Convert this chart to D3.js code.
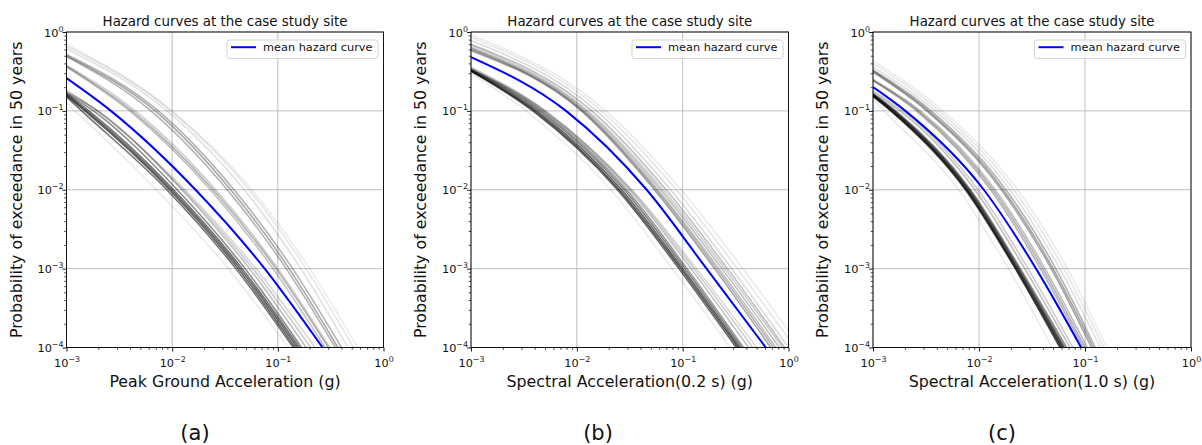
<!DOCTYPE html>
<html><head><meta charset="utf-8">
<script src="https://cdn.jsdelivr.net/npm/d3@7"></script>
<style>
body{margin:0;background:#fff;}
text{font-family:"DejaVu Sans","Liberation Sans",sans-serif;fill:#111;}
</style>
</head><body>
<svg id="chart" width="1202" height="445"></svg>
<script>
// ---------------- DATA ----------------
// Each logic-tree hazard curve read from the picture as:
// [P at 0.001 g, accel. where P = 1e-1, accel. where P = 1e-2, accel. where P = 1e-3, accel. where P = 1e-4, branch weight]
const pgaCurves = [
  [0.150,0.00139,0.00889,0.040,0.140,0.55],[0.155,0.00149,0.00942,0.042,0.146,0.60],
  [0.160,0.00155,0.00984,0.044,0.153,0.60],[0.165,0.00163,0.01033,0.046,0.160,0.55],
  [0.168,0.00180,0.01117,0.049,0.168,0.45],
  [0.172,0.00199,0.0123,0.054,0.185,0.25],[0.178,0.00195,0.0127,0.058,0.205,0.20],
  [0.185,0.00195,0.0132,0.062,0.225,0.15],
  [0.125,0.00120,0.0071,0.034,0.125,0.08],
  [0.36,0.00396,0.0230,0.090,0.28,0.25],[0.37,0.00418,0.0244,0.096,0.30,0.30],[0.38,0.00447,0.0258,0.100,0.31,0.20],
  [0.49,0.0063,0.0332,0.120,0.35,0.30],[0.50,0.0069,0.0358,0.128,0.37,0.35],[0.52,0.0074,0.0385,0.138,0.40,0.30],
  [0.61,0.00895,0.0481,0.165,0.46,0.12],[0.66,0.00973,0.0535,0.185,0.52,0.10],[0.70,0.0100,0.0569,0.200,0.57,0.08]
];
const pgaMean = [0.26,0.00263,0.01663,0.075,0.265];

const sa02Curves = [
  [0.318,0.00384,0.0242,0.092,0.320,0.60],[0.322,0.0040,0.0252,0.096,0.334,0.65],
  [0.327,0.0042,0.0265,0.100,0.346,0.60],[0.332,0.00446,0.0281,0.105,0.360,0.50],
  [0.337,0.00469,0.0296,0.110,0.375,0.40],
  [0.34,0.0049,0.0314,0.120,0.42,0.25],[0.35,0.0050,0.0325,0.128,0.46,0.20],[0.36,0.0051,0.0332,0.135,0.50,0.15],
  [0.30,0.0033,0.0209,0.080,0.28,0.08],
  [0.58,0.0110,0.0540,0.200,0.68,0.35],[0.60,0.01135,0.0562,0.210,0.72,0.30],[0.62,0.0116,0.0582,0.220,0.76,0.25],
  [0.64,0.01213,0.0617,0.235,0.82,0.25],[0.68,0.0127,0.0652,0.250,0.88,0.20],[0.70,0.01384,0.0698,0.265,0.92,0.25],
  [0.78,0.01535,0.0769,0.290,1.00,0.15],[0.86,0.01714,0.0869,0.330,1.15,0.10],[0.92,0.0188,0.0964,0.370,1.30,0.08]
];
const sa02Mean = [0.48,0.0079,0.0457,0.168,0.61];

const sa10Curves = [
  [0.152,0.00147,0.00745,0.0220,0.058,0.70],[0.156,0.00150,0.00762,0.0225,0.060,0.75],
  [0.159,0.00155,0.00783,0.0231,0.062,0.70],[0.162,0.00159,0.00807,0.0238,0.064,0.60],
  [0.165,0.00164,0.00830,0.0245,0.067,0.45],
  [0.17,0.00180,0.00915,0.027,0.072,0.25],[0.18,0.00192,0.0098,0.029,0.077,0.20],
  [0.14,0.00127,0.00644,0.019,0.049,0.08],
  [0.24,0.00257,0.0129,0.038,0.096,0.30],[0.245,0.00267,0.01355,0.040,0.100,0.30],[0.25,0.00279,0.0142,0.042,0.105,0.25],
  [0.31,0.00321,0.01626,0.048,0.115,0.35],[0.32,0.00334,0.01694,0.050,0.120,0.35],[0.33,0.00354,0.01795,0.053,0.125,0.30],
  [0.36,0.00387,0.01963,0.058,0.140,0.12],[0.40,0.00421,0.02133,0.063,0.150,0.10],[0.43,0.00455,0.02307,0.068,0.160,0.08]
];
const sa10Mean = [0.20,0.00202,0.0111,0.0345,0.092];

const xTicks = [1e-3,1e-2,1e-1,1];
const yTicks = [1e-4,1e-3,1e-2,1e-1,1];
const titleText = "Hazard curves at the case study site";
const yLabelText = "Probability of exceedance in 50 years";
const xLabelTexts = ["Peak Ground Acceleration (g)","Spectral Acceleration(0.2 s) (g)","Spectral Acceleration(1.0 s) (g)"];
const panelTags = ["(a)","(b)","(c)"];
const legendText = "mean hazard curve";

// ---------------- DRAW ----------------
const svg = d3.select("#chart");
const plotTop = 32, plotBottom = 347.5;
const layout = [
  {left:66.5, right:383.5, tagX:195},
  {left:471,  right:788.5, tagX:598},
  {left:873,  right:1191,  tagX:1002}
];
const curveSets = [pgaCurves, sa02Curves, sa10Curves];
const means = [pgaMean, sa02Mean, sa10Mean];
const opacity = d3.scaleLinear().domain([0,1]).range([0,1]);

function anchors(c){
  return [[0.001,c[0]],[c[1],1e-1],[c[2],1e-2],[c[3],1e-3],[c[4],1e-4]];
}
function minorOf(dom){
  const out=[];
  const a=Math.round(Math.log10(dom[0])), b=Math.round(Math.log10(dom[1]));
  for(let e=a;e<b;e++) for(let k=2;k<=9;k++) out.push(k*Math.pow(10,e));
  return out;
}
const expo = v => { const e=Math.round(Math.log10(v)); return e<0 ? "\u2212"+(-e) : String(e); };

layout.forEach((L,i)=>{
  const x = d3.scaleLog().domain([1e-3,1]).range([L.left,L.right]);
  const y = d3.scaleLog().domain([1e-4,1]).range([plotBottom,plotTop]);
  const g = svg.append("g");
  const cid = "clip"+i;
  svg.append("clipPath").attr("id",cid).append("rect")
    .attr("x",L.left).attr("y",plotTop).attr("width",L.right-L.left).attr("height",plotBottom-plotTop);

  // grid
  g.append("g").selectAll("line").data(xTicks).join("line")
    .attr("x1",d=>x(d)).attr("x2",d=>x(d)).attr("y1",plotTop).attr("y2",plotBottom)
    .attr("stroke","#b8b8b8").attr("stroke-width",0.9);
  g.append("g").selectAll("line").data(yTicks).join("line")
    .attr("y1",d=>y(d)).attr("y2",d=>y(d)).attr("x1",L.left).attr("x2",L.right)
    .attr("stroke","#b8b8b8").attr("stroke-width",0.9);

  const line = d3.line().x(d=>x(d[0])).y(d=>y(d[1])).curve(d3.curveMonotoneX);
  const cg = g.append("g").attr("clip-path",`url(#${cid})`);
  cg.selectAll("path.branch").data(curveSets[i]).join("path").attr("class","branch")
    .attr("d",d=>line(anchors(d))).attr("fill","none")
    .attr("stroke","#000").attr("stroke-opacity",d=>opacity(d[5])).attr("stroke-width",1.6);
  cg.append("path").attr("d",line(anchors(means[i]))).attr("fill","none")
    .attr("stroke","#0000ff").attr("stroke-width",2);

  // axes
  const xa = g.append("g").attr("transform",`translate(0,${plotBottom})`)
    .call(d3.axisBottom(x).tickValues(xTicks).tickSize(4).tickSizeOuter(0).tickFormat(()=>""));
  xa.select(".domain").remove();
  xa.selectAll(".tick line").attr("stroke","#000").attr("stroke-width",0.9);
  xa.selectAll(".tick text").each(function(d){
    const t=d3.select(this).attr("y",19.5).attr("dy",null).attr("font-size",11.3).attr("fill","#111");
    t.text(null);
    t.append("tspan").text("10");
    t.append("tspan").attr("dy",-5).attr("font-size",7.9).text(expo(d));
  });
  const xm = g.append("g").attr("transform",`translate(0,${plotBottom})`)
    .call(d3.axisBottom(x).tickValues(minorOf([1e-3,1])).tickSize(2.3).tickSizeOuter(0).tickFormat(()=>""));
  xm.select(".domain").remove();
  xm.selectAll(".tick line").attr("stroke","#000").attr("stroke-width",0.7);

  const ya = g.append("g").attr("transform",`translate(${L.left},0)`)
    .call(d3.axisLeft(y).tickValues(yTicks).tickSize(4).tickSizeOuter(0).tickFormat(()=>""));
  ya.select(".domain").remove();
  ya.selectAll(".tick line").attr("stroke","#000").attr("stroke-width",0.9);
  ya.selectAll(".tick text").each(function(d){
    const t=d3.select(this).attr("x",-3).attr("dy",null).attr("y",4).attr("font-size",11.3).attr("fill","#111");
    t.text(null);
    t.append("tspan").text("10");
    t.append("tspan").attr("dy",-5).attr("font-size",7.9).text(expo(d));
  });
  const ym = g.append("g").attr("transform",`translate(${L.left},0)`)
    .call(d3.axisLeft(y).tickValues(minorOf([1e-4,1])).tickSize(2.3).tickSizeOuter(0).tickFormat(()=>""));
  ym.select(".domain").remove();
  ym.selectAll(".tick line").attr("stroke","#000").attr("stroke-width",0.7);

  // frame
  g.append("rect").attr("x",L.left).attr("y",plotTop).attr("width",L.right-L.left).attr("height",plotBottom-plotTop)
    .attr("fill","none").attr("stroke","#000").attr("stroke-width",0.9);

  // legend
  const lw=151, lh=18.5, lx=L.right-5.5-lw, ly=40;
  const lg = g.append("g");
  lg.append("rect").attr("x",lx).attr("y",ly).attr("width",lw).attr("height",lh).attr("rx",2.5)
    .attr("fill","#fff").attr("fill-opacity",0.8).attr("stroke","#d4d4d4").attr("stroke-width",1);
  lg.append("line").attr("x1",lx+4).attr("x2",lx+29).attr("y1",ly+7.2).attr("y2",ly+7.2)
    .attr("stroke","#0000ff").attr("stroke-width",2);
  lg.append("text").attr("x",lx+36).attr("y",ly+11.2).attr("font-size",11.3).text(legendText);

  // texts
  const cx=(L.left+L.right)/2;
  svg.append("text").attr("x",cx).attr("y",25.5).attr("text-anchor","middle").attr("font-size",13.4).text(titleText);
  svg.append("text").attr("x",cx).attr("y",387).attr("text-anchor","middle").attr("font-size",15.8).text(xLabelTexts[i]);
  svg.append("text").attr("transform",`translate(${L.left-45},${(plotTop+plotBottom)/2}) rotate(-90)`)
    .attr("text-anchor","middle").attr("font-size",15.8).text(yLabelText);
  svg.append("text").attr("x",L.tagX).attr("y",440).attr("text-anchor","middle").attr("font-size",21).text(panelTags[i]);
});
</script>
</body></html>
